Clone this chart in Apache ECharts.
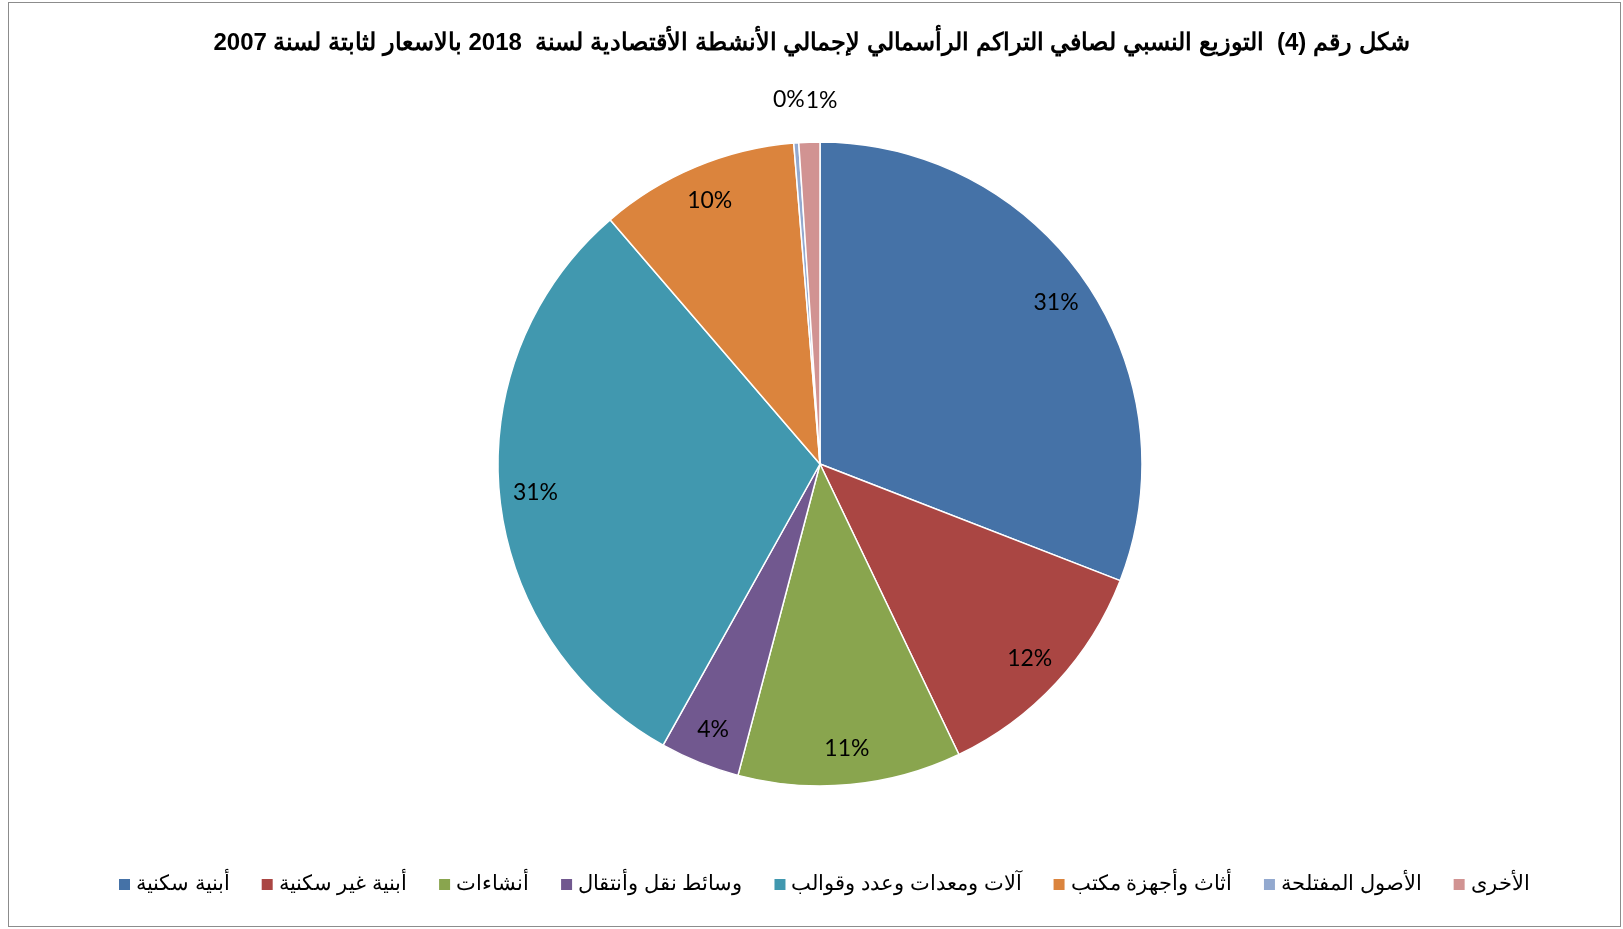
<!DOCTYPE html>
<html>
<head>
<meta charset="utf-8">
<script src="https://cdn.jsdelivr.net/npm/echarts@6/dist/echarts.min.js"></script>
<style>
html, body { margin: 0; padding: 0; background: #fff; }
#frame { position: absolute; left: 8px; top: 2px; width: 1611px; height: 923px; border: 1px solid #8c8c8c; }
#chart { position: absolute; left: 0; top: 0; width: 1623px; height: 929px; }
</style>
</head>
<body>
<div id="frame"></div>
<div id="chart"></div>
<script>
// عنوان الشكل
var titleText = 'شكل رقم (4)  التوزيع النسبي لصافي التراكم الرأسمالي لإجمالي الأنشطة الأقتصادية لسنة  2018 بالاسعار لثابتة لسنة 2007';

// الأنشطة والنسب
var names = ['أبنية سكنية', 'أبنية غير سكنية', 'أنشاءات', 'وسائط نقل وأنتقال', 'آلات ومعدات وعدد وقوالب', 'أثاث وأجهزة مكتب', 'الأصول المفتلحة', 'الأخرى'];
var values = [30.9, 12.0, 11.2, 4.0, 30.6, 10.0, 0.25, 1.05];
var colors = ['#4572A7', '#AA4643', '#89A54E', '#71588F', '#4198AF', '#DB843D', '#93A9CF', '#D19392'];

var chart = echarts.init(document.getElementById('chart'));

var pieData = names.map(function (n, i) {
    return { name: n, value: values[i], itemStyle: { color: colors[i] } };
});

// نفس البيانات لوضع النسب قرب الحافة
var labelData = names.map(function (n, i) {
    var item = { name: n, value: values[i] };
    if (i == 6) item.label = { offset: [-10, -79] };
    if (i == 7) item.label = { offset: [11, -78] };
    return item;
});

var option = {
    animation: false,
    title: {
        text: titleText,
        left: 'center',
        top: 26,
        textStyle: { fontFamily: 'Liberation Sans', fontWeight: 'bold', fontSize: 24, color: '#000' }
    },
    legend: {
        data: names,
        bottom: 29,
        left: 112,
        itemWidth: 13,
        itemHeight: 13,
        itemGap: 30,
        icon: 'rect',
        textStyle: { fontFamily: 'Liberation Sans', fontSize: 20.5, color: '#000' }
    },
    series: [
        {
            type: 'pie',
            center: [820, 464],
            radius: 322,
            startAngle: 90,
            clockwise: true,
            data: pieData,
            label: { show: false },
            labelLine: { show: false },
            itemStyle: { borderColor: '#fff', borderWidth: 1.5 },
            emphasis: { disabled: true }
        },
        {
            type: 'pie',
            center: [820, 464],
            radius: [244, 322],
            startAngle: 90,
            clockwise: true,
            silent: true,
            z: 3,
            data: labelData,
            itemStyle: { color: 'rgba(0,0,0,0)' },
            emphasis: { disabled: true },
            labelLine: { show: false },
            label: {
                show: true,
                position: 'inside',
                fontFamily: 'Lato',
                fontSize: 23,
                color: '#000',
                formatter: function (p) { return Math.round(p.percent) + '%'; }
            }
        }
    ]
};
chart.setOption(option);
</script>
</body>
</html>
